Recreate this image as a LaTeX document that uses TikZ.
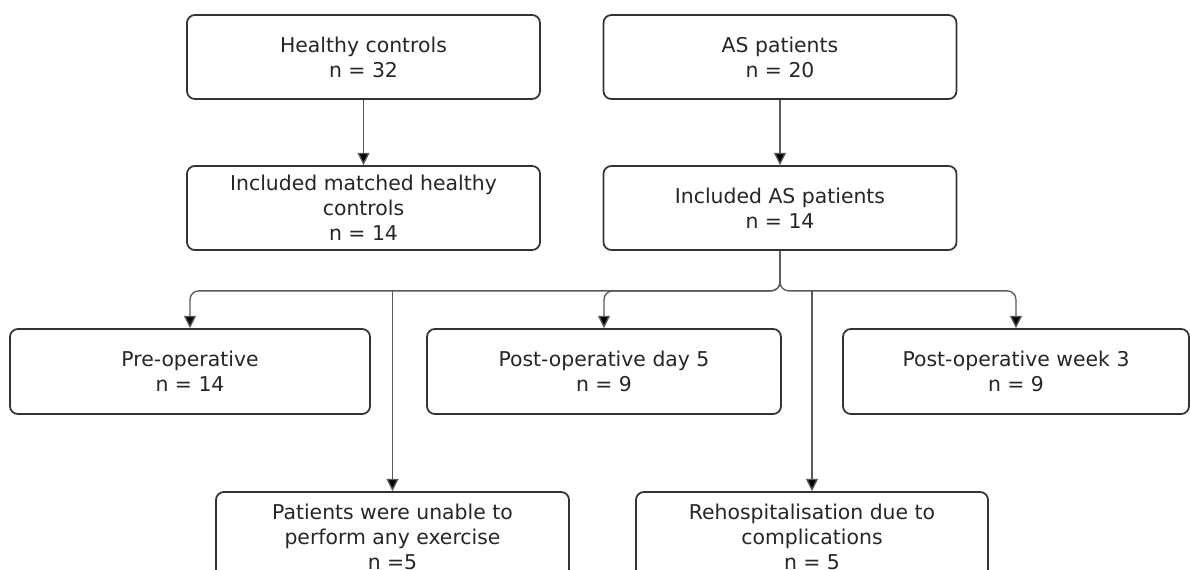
\documentclass[tikz,border=0pt]{standalone}
\usepackage{fontspec}
\setmainfont{DejaVu Sans}
\usetikzlibrary{positioning, arrows.meta}
\definecolor{boxline}{HTML}{333333}
\definecolor{flowline}{HTML}{595959}
\tikzset{
    boxN/.style={draw=boxline, line width=1pt, rounded corners=4.5pt, fill=white, align=center, text=black!85, inner sep=0pt,
                 font=\fontsize{11.6}{14.2}\selectfont, minimum width=7.06cm, minimum height=1.68cm},
    flow/.style={draw=flowline, line width=0.75pt, rounded corners=5pt, -{Triangle[length=7pt, width=6.8pt, fill=black]}},
    node distance=1.5
}

\begin{document}
\begin{tikzpicture}[node distance=2cm, on grid]
  \useasboundingbox (0,0) rectangle (23.8,-11.4);
  \node[boxN] (hc) at (7.27,-1.14) {Healthy controls\\n = 32};
  \node[boxN, right = 8.33cm of hc] (asp) {AS patients\\n = 20};
  \node[boxN, below = 3.02cm of hc] (inchc) {Included matched healthy\\controls\\n = 14};
  \node[boxN, below = 3.02cm of asp] (incas) {Included AS patients\\n = 14};
  \node[boxN, minimum width=7.08cm, minimum height=1.7cm, below left = 3.27cm and 3.52cm of incas] (day5) {Post-operative day 5\\n = 9};
  \node[boxN, minimum width=7.2cm, minimum height=1.7cm, left = 8.28cm of day5] (pre) {Pre-operative\\n = 14};
  \node[boxN, minimum width=6.92cm, minimum height=1.7cm, right = 8.24cm of day5] (week3) {Post-operative week 3\\n = 9};
  \node[boxN, minimum height=1.8cm, below right = 3.31cm and 4.05cm of pre] (unable) {Patients were unable to\\perform any exercise\\n =5};
  \node[boxN, minimum width=7.04cm, minimum height=1.8cm, right = 8.39cm of unable] (rehosp) {Rehospitalisation due to\\complications\\n = 5};
  \coordinate[below = 0.8cm of incas.south] (split);

  \draw[flow] (hc) -- (inchc);
  \draw[flow] (asp) -- (incas);
  \draw[flow] (incas.south) -- (split) -| (pre);
  \draw[flow] (incas.south) -- (split) -| (day5);
  \draw[flow] (incas.south) -- (split) -| (week3);
  \draw[flow] (split -| unable.north) -- (unable);
  \draw[flow] (split -| rehosp.north) -- (rehosp);
\end{tikzpicture}
\end{document}
